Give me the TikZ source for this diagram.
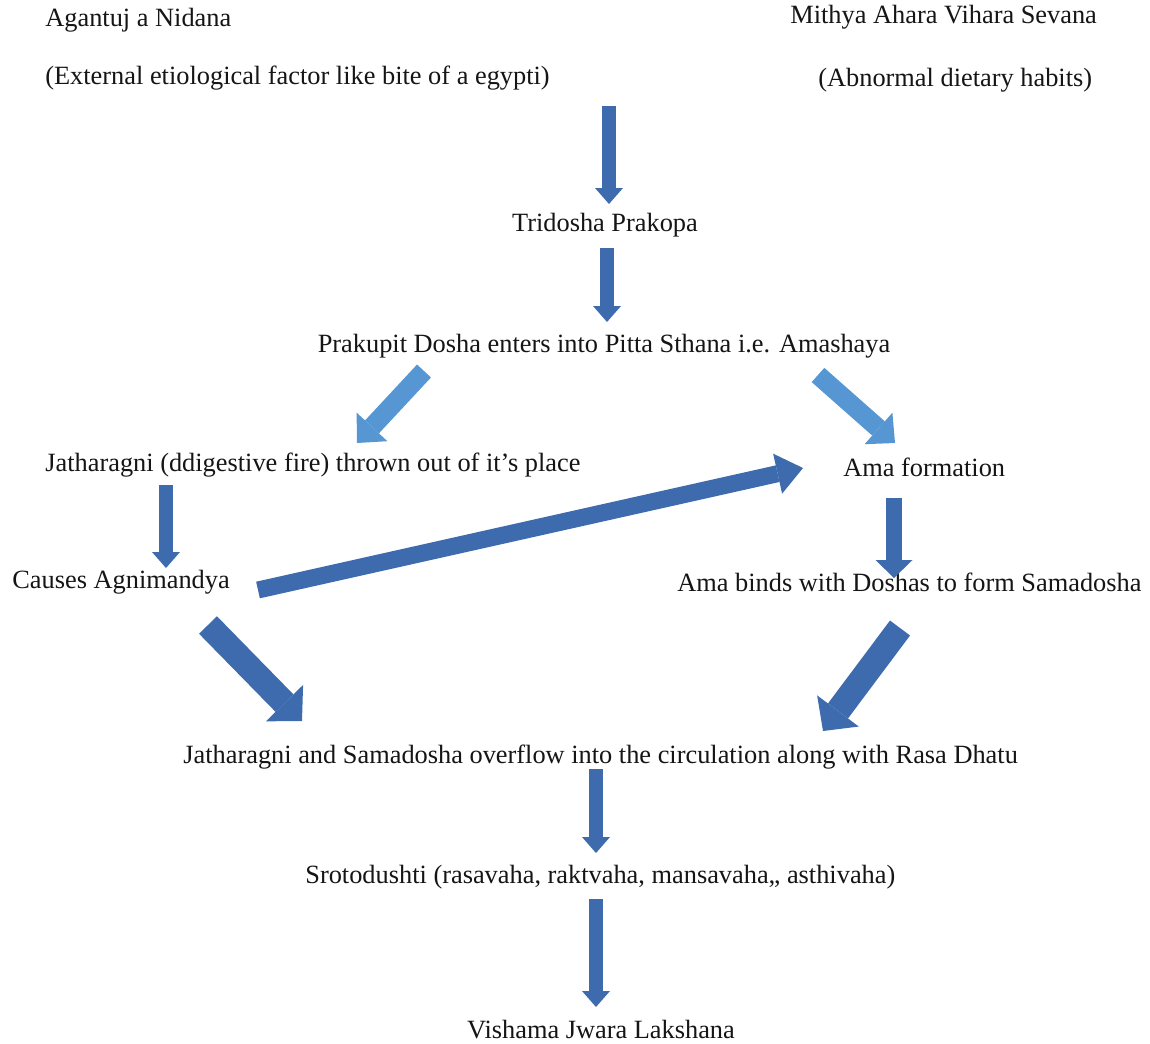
\documentclass[tikz,border=0pt]{standalone}
\usepackage{fontspec}
\setmainfont{Liberation Serif}
\usetikzlibrary{arrows.meta,positioning,calc}
\definecolor{flowdark}{HTML}{3D6BAE}
\definecolor{flowlight}{HTML}{5696D2}
\definecolor{inkblack}{HTML}{151515}

\begin{document}
\begin{tikzpicture}[
  x=0.2mm, y=-0.2mm,
  font=\fontsize{15}{18}\selectfont,
  txt/.style     = {inner sep=0pt, text=inkblack},
  flowdn/.style  = {draw=flowdark, line width=2.7mm,
                    -{Triangle[length=3.2mm, width=5.6mm, line width=0pt]}},
  flowmid/.style = {draw=flowdark, line width=3.2mm,
                    -{Triangle[length=3.6mm, width=7.4mm, line width=0pt]}},
  flowlt/.style  = {draw=flowlight, line width=3.8mm,
                    -{Triangle[length=4.4mm, width=8.4mm, line width=0pt]}},
  flowwide/.style= {draw=flowdark, line width=3.4mm,
                    -{Triangle[length=5.2mm, width=8.2mm, line width=0pt]}},
  flowbig/.style = {draw=flowdark, line width=5mm,
                    -{Triangle[length=5mm, width=10.4mm, line width=0pt]}},
]
\useasboundingbox[fill=white] (0,0) rectangle (1150,1043);

% --- the two causes at the top ---------------------------------------------------------------
\node[txt, anchor=west] (agantuj) at (45,20)  {Agantuj a Nidana};
\node[txt, anchor=west] (extern)  at (45,78)  {(External etiological factor like bite of a egypti)};
\node[txt, anchor=west] (mithya)  at (790,17) {Mithya Ahara Vihara Sevana};
\node[txt, anchor=west] (abnorm)  at (818,80) {(Abnormal dietary habits)};

% --- the middle column ---------------------------------------------------------------------------
\node[txt] (tridosha) at (605,225) {Tridosha Prakopa};
\node[txt] (prakupit) at (604,346) {Prakupit Dosha enters into Pitta Sthana i.e. Amashaya};

\node[txt, anchor=west] (jathar)   at (45,465)  {Jatharagni (ddigestive fire) thrown out of it's place};
\node[txt, anchor=west] (ama)      at (843,467) {Ama formation};
\node[txt, anchor=west] (causes)   at (12,582)  {Causes Agnimandya};
\node[txt, anchor=west] (amabinds) at (677,582) {Ama binds with Doshas to form Samadosha};

\node[txt, anchor=west] (overflow) at (183,757) {Jatharagni and Samadosha overflow into the circulation along with Rasa Dhatu};
\node[txt, anchor=west] (sroto)    at (305,877) {Srotodushti (rasavaha, raktvaha, mansavaha,, asthivaha)};
\node[txt] (vishama) at (601,1030) {Vishama Jwara Lakshana};

% --- free ends of the block arrows ---------------------------------------------------------------
\coordinate (topout)   at (609,106);  \coordinate (tridin)   at (609,204);
\coordinate (tridout)  at (607,248);  \coordinate (prakin)   at (607,322);
\coordinate (prakoutl) at (424,371);  \coordinate (jatharin) at (357,443);
\coordinate (prakoutr) at (818,375);  \coordinate (amain)    at (895,443);
\coordinate (jathout)  at (166,485);  \coordinate (causesin) at (166,568);
\coordinate (causesup) at (258,590);  \coordinate (amaside)  at (803,468);
\coordinate (amaout)   at (894,498);  \coordinate (bindsin)  at (894,578);
\coordinate (causesdn) at (208,625);  \coordinate (overinl)  at (302,721);
\coordinate (bindsout) at (900,628);  \coordinate (overinr)  at (823,731);
\coordinate (overout)  at (596,769);  \coordinate (srotoin)  at (596,853);
\coordinate (srotoout) at (596,899);  \coordinate (vishin)   at (596,1007);

% --- the arrows ------------------------------------------------------------------------------------
\draw[flowdn]   (topout)   -- (tridin);
\draw[flowdn]   (tridout)  -- (prakin);
\draw[flowlt]   (prakoutl) -- (jatharin);
\draw[flowlt]   (prakoutr) -- (amain);
\draw[flowdn]   (jathout)  -- (causesin);
\draw[flowwide] (causesup) -- (amaside);
\draw[flowmid]  (amaout)   -- (bindsin);
\draw[flowbig]  (causesdn) -- (overinl);
\draw[flowbig]  (bindsout) -- (overinr);
\draw[flowdn]   (overout)  -- (srotoin);
\draw[flowdn]   (srotoout) -- (vishin);

\end{tikzpicture}
\end{document}
